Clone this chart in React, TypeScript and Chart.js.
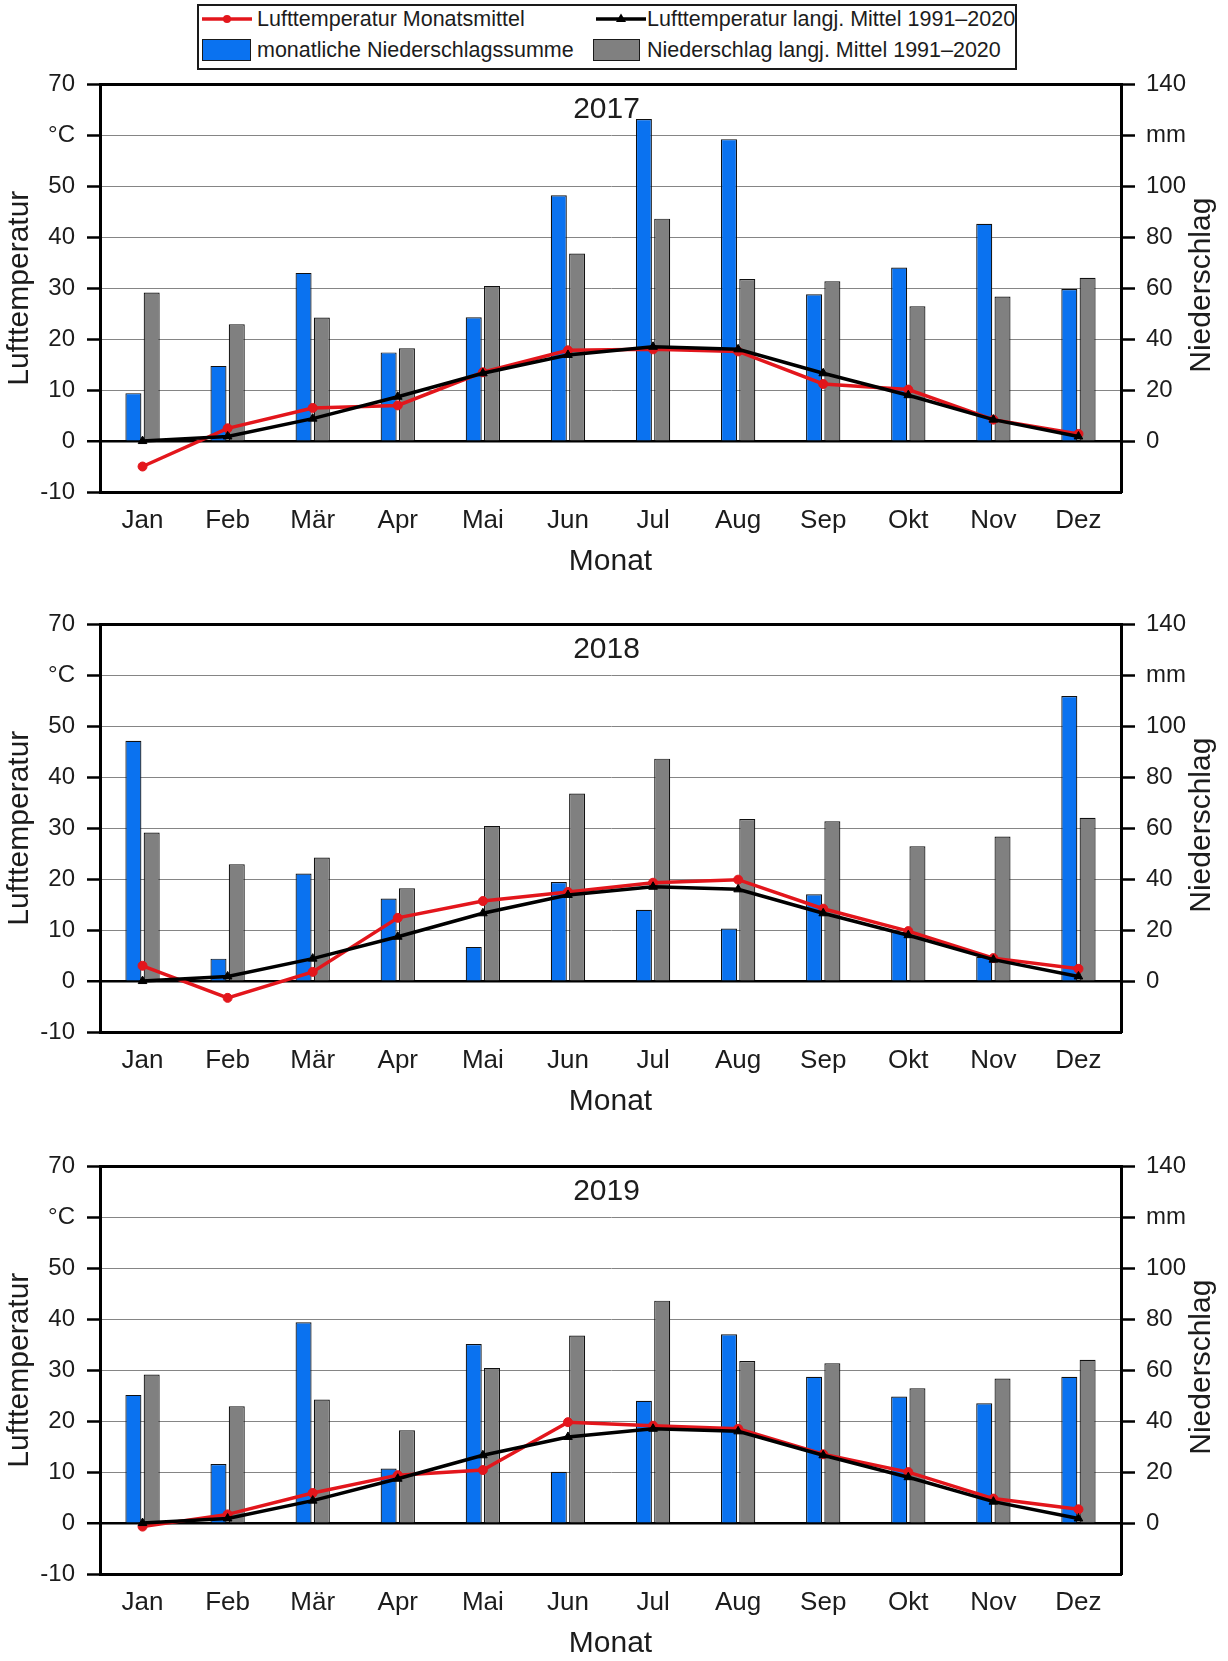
import { useEffect, useRef } from 'react';
import { Chart, registerables } from 'chart.js';

Chart.register(...registerables);

// Month categories and tick texts
const MONTHS = ['Jan', 'Feb', 'Mär', 'Apr', 'Mai', 'Jun', 'Jul', 'Aug', 'Sep', 'Okt', 'Nov', 'Dez'];

// Long-term reference values 1991–2020
const TEMP_LONG_TERM = [0.0, 0.9, 4.4, 8.7, 13.3, 16.9, 18.5, 18.0, 13.3, 9.0, 4.2, 0.9];
const PRECIP_LONG_TERM = [58.3, 45.8, 48.5, 36.4, 60.9, 73.6, 87.3, 63.6, 62.7, 52.9, 56.7, 64.1];

// Monthly mean air temperature (°C) per year
const TEMP_2017 = [-5.0, 2.5, 6.5, 7.0, 13.5, 17.8, 18.0, 17.6, 11.2, 10.1, 4.2, 1.4];
const TEMP_2018 = [3.0, -3.3, 1.8, 12.4, 15.7, 17.5, 19.3, 19.9, 14.2, 9.8, 4.5, 2.4];
const TEMP_2019 = [-0.7, 1.7, 5.9, 9.4, 10.4, 19.8, 19.1, 18.5, 13.5, 10.0, 4.8, 2.7];

// Monthly precipitation totals (mm) per year
const PRECIP_2017 = [18.8, 29.5, 66.0, 34.8, 48.6, 96.5, 126.4, 118.5, 57.6, 68.1, 85.3, 59.7];
const PRECIP_2018 = [94.3, 8.8, 42.2, 32.4, 13.4, 38.9, 28.0, 20.6, 34.1, 19.3, 9.5, 111.9];
const PRECIP_2019 = [50.3, 23.2, 78.8, 21.4, 70.3, 20.1, 48.0, 74.1, 57.4, 49.7, 47.0, 57.4];

// Axis tick steps and the ticks that carry unit labels
const TEMP_MIN = -10;
const TEMP_MAX = 70;
const TEMP_STEP = 10;
const TEMP_UNIT_TICK = 60;
const PRECIP_MIN = -20;
const PRECIP_MAX = 140;
const PRECIP_STEP = 20;
const PRECIP_UNIT_TICK = 120;

const FONT = "'Liberation Sans', Arial, Helvetica, sans-serif";
const TEXT = '#1c1c1c';
const RED = '#e3161c';
const BLUE = '#0a72f0';
const GREY = '#808080';

const WIDTH = 1228;
const PLOT_LEFT = 100;
const PLOT_RIGHT = 1121;
const PAD_TOP = 26;
const PLOT_H = 408;
const XAXIS_H = 88;
const CANVAS_H = PAD_TOP + PLOT_H + XAXIS_H;

type PanelProps = { year: string; temps: number[]; precip: number[]; top: number };

function Panel({ year, temps, precip, top }: PanelProps) {
  const ref = useRef<HTMLCanvasElement>(null);

  useEffect(() => {
    if (!ref.current) return;

    const yearLabel = {
      id: 'yearLabel',
      beforeDatasetsDraw(chart: any) {
        const { ctx, chartArea } = chart;
        ctx.save();
        ctx.font = `30px ${FONT}`;
        ctx.fillStyle = TEXT;
        ctx.textAlign = 'center';
        ctx.textBaseline = 'middle';
        ctx.fillText(year, (chartArea.left + chartArea.right) / 2 - 4, chartArea.top + 25);
        ctx.restore();
      },
    };

    const rightTitle = {
      id: 'rightTitle',
      afterDraw(chart: any) {
        const { ctx, chartArea } = chart;
        ctx.save();
        ctx.translate(1202, (chartArea.top + chartArea.bottom) / 2 - 3);
        ctx.rotate(-Math.PI / 2);
        ctx.font = `30px ${FONT}`;
        ctx.fillStyle = TEXT;
        ctx.textAlign = 'center';
        ctx.textBaseline = 'middle';
        ctx.fillText('Niederschlag', 0, 0);
        ctx.restore();
      },
    };

    const isFrameOrZero = (v: number) => v === 0 || v === TEMP_MIN || v === TEMP_MAX;

    const chart = new Chart(ref.current, {
      type: 'bar',
      data: {
        labels: MONTHS,
        datasets: [
          {
            type: 'line',
            label: 'Lufttemperatur langj. Mittel 1991–2020',
            data: TEMP_LONG_TERM,
            yAxisID: 'y',
            borderColor: '#000',
            backgroundColor: '#000',
            borderWidth: 3.5,
            pointStyle: 'triangle',
            pointRadius: 5,
            pointBorderWidth: 1,
            tension: 0,
            order: 0,
          },
          {
            type: 'line',
            label: 'Lufttemperatur Monatsmittel',
            data: temps,
            yAxisID: 'y',
            borderColor: RED,
            backgroundColor: RED,
            borderWidth: 3.5,
            pointStyle: 'circle',
            pointRadius: 4.5,
            pointBorderWidth: 1,
            tension: 0,
            order: 1,
          },
          {
            type: 'bar',
            label: 'monatliche Niederschlagssumme',
            data: precip,
            yAxisID: 'y1',
            backgroundColor: BLUE,
            borderColor: '#111',
            borderWidth: 1.2,
            categoryPercentage: 0.43,
            barPercentage: 0.875,
            order: 2,
          },
          {
            type: 'bar',
            label: 'Niederschlag langj. Mittel 1991–2020',
            data: PRECIP_LONG_TERM,
            yAxisID: 'y1',
            backgroundColor: GREY,
            borderColor: '#111',
            borderWidth: 1.2,
            categoryPercentage: 0.43,
            barPercentage: 0.875,
            order: 3,
          },
        ],
      } as any,
      options: {
        responsive: false,
        animation: false,
        layout: { padding: { top: PAD_TOP, left: 0, right: 0, bottom: 0 } },
        plugins: {
          legend: { display: false },
          tooltip: { enabled: false },
        },
        scales: {
          x: {
            offset: true,
            grid: { display: false },
            border: { display: true, color: '#000', width: 3 },
            ticks: {
              font: { family: FONT, size: 26 },
              color: TEXT,
              padding: 5,
              maxRotation: 0,
              autoSkip: false,
            },
            title: {
              display: true,
              text: 'Monat',
              font: { family: FONT, size: 30 },
              color: TEXT,
              padding: { top: 0, bottom: 0 },
            },
            afterFit: (s: any) => {
              s.height = XAXIS_H;
            },
          },
          y: {
            position: 'left',
            min: TEMP_MIN,
            max: TEMP_MAX,
            ticks: {
              stepSize: TEMP_STEP,
              font: { family: FONT, size: 24 },
              color: TEXT,
              padding: 12,
              callback: (v: any) => (v === TEMP_UNIT_TICK ? '°C' : String(v)),
            },
            grid: {
              color: (c: any) => (c.tick && isFrameOrZero(c.tick.value) ? '#000' : '#858585'),
              lineWidth: (c: any) => {
                if (!c.tick) return 1;
                if (c.tick.value === 0) return 2.5;
                if (c.tick.value === TEMP_MIN || c.tick.value === TEMP_MAX) return 3;
                return 1;
              },
              tickColor: '#000',
              tickWidth: 2.5,
              tickLength: 13,
            },
            border: { display: true, color: '#000', width: 3 },
            title: {
              display: true,
              text: 'Lufttemperatur',
              font: { family: FONT, size: 30 },
              color: TEXT,
              padding: { top: 2, bottom: 0 },
            },
            afterFit: (s: any) => {
              s.width = PLOT_LEFT;
            },
          },
          y1: {
            position: 'right',
            min: PRECIP_MIN,
            max: PRECIP_MAX,
            ticks: {
              stepSize: PRECIP_STEP,
              font: { family: FONT, size: 24 },
              color: TEXT,
              padding: 11,
              callback: (v: any) => (v === PRECIP_UNIT_TICK ? 'mm' : String(v)),
            },
            afterBuildTicks: (s: any) => {
              s.ticks = s.ticks.filter((t: any) => t.value >= 0);
            },
            grid: {
              drawOnChartArea: false,
              tickColor: '#000',
              tickWidth: 2.5,
              tickLength: 14,
            },
            border: { display: true, color: '#000', width: 3 },
            afterFit: (s: any) => {
              s.width = WIDTH - PLOT_RIGHT;
            },
          },
        },
      } as any,
      plugins: [yearLabel, rightTitle],
    });

    return () => chart.destroy();
  }, [year, temps, precip]);

  return (
    <canvas
      ref={ref}
      width={WIDTH}
      height={CANVAS_H}
      style={{ position: 'absolute', left: 0, top: top - PAD_TOP, width: WIDTH, height: CANVAS_H }}
    />
  );
}

function LineSymbol({ color, marker }: { color: string; marker: 'circle' | 'triangle' }) {
  return (
    <svg width={50} height={12} style={{ position: 'absolute', left: 0, top: -6 }}>
      <line x1={0} y1={6} x2={50} y2={6} stroke={color} strokeWidth={3.5} />
      {marker === 'circle' ? (
        <circle cx={25} cy={6} r={4} fill={color} />
      ) : (
        <polygon points="25,0.5 30,9 20,9" fill={color} />
      )}
    </svg>
  );
}

function Legend() {
  const text: any = {
    position: 'absolute',
    whiteSpace: 'nowrap',
    lineHeight: '24px',
    transform: 'translateY(-50%)',
  };
  return (
    <div
      style={{
        position: 'absolute',
        left: 197,
        top: 4,
        width: 820,
        height: 66,
        boxSizing: 'border-box',
        border: '2px solid #1a1a1a',
        background: '#fff',
        fontFamily: FONT,
        fontSize: 21.5,
        color: TEXT,
      }}
    >
      <div style={{ position: 'absolute', left: 3, top: 13 }}>
        <LineSymbol color={RED} marker="circle" />
      </div>
      <span style={{ ...text, left: 58, top: 13 }}>Lufttemperatur Monatsmittel</span>
      <div style={{ position: 'absolute', left: 397, top: 13 }}>
        <LineSymbol color="#000" marker="triangle" />
      </div>
      <span style={{ ...text, left: 448, top: 13 }}>Lufttemperatur langj. Mittel 1991–2020</span>

      <div
        style={{
          position: 'absolute',
          left: 3,
          top: 33,
          width: 49,
          height: 22,
          boxSizing: 'border-box',
          background: BLUE,
          border: '1.5px solid #1a1a1a',
        }}
      />
      <span style={{ ...text, left: 58, top: 44 }}>monatliche Niederschlagssumme</span>
      <div
        style={{
          position: 'absolute',
          left: 394,
          top: 33,
          width: 47,
          height: 22,
          boxSizing: 'border-box',
          background: GREY,
          border: '1.5px solid #1a1a1a',
        }}
      />
      <span style={{ ...text, left: 448, top: 44 }}>Niederschlag langj. Mittel 1991–2020</span>
    </div>
  );
}

export default function App() {
  return (
    <div
      style={{
        position: 'absolute',
        left: 0,
        top: 0,
        width: WIDTH,
        height: 1661,
        overflow: 'hidden',
        background: '#fff',
      }}
    >
      <Legend />
      <Panel year="2017" temps={TEMP_2017} precip={PRECIP_2017} top={84} />
      <Panel year="2018" temps={TEMP_2018} precip={PRECIP_2018} top={624} />
      <Panel year="2019" temps={TEMP_2019} precip={PRECIP_2019} top={1166} />
    </div>
  );
}
